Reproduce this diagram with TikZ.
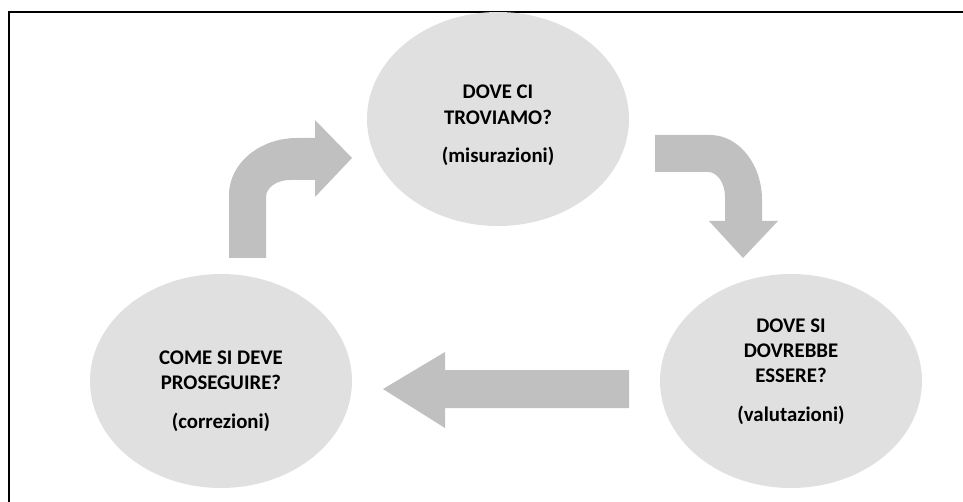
\documentclass[tikz,border=0pt]{standalone}
\usepackage{fontspec}
\setmainfont{Carlito}
\usetikzlibrary{shapes.geometric}
\definecolor{cycleFill}{HTML}{E0E0E0}
\definecolor{cycleArrow}{HTML}{C0C0C0}
\tikzset{
  bubble/.style={ellipse, fill=cycleFill, minimum width=196.5pt, minimum height=160.5pt, inner sep=0pt},
  txt/.style={align=center, inner sep=0pt, font=\fontsize{15.6}{19}\bfseries\selectfont},
  blockarrow/.style={fill=cycleArrow},
  frame/.style={line width=1.5pt},
}

\begin{document}
\begin{tikzpicture}[x=0.75pt, y=-0.75pt]
  \useasboundingbox (0,0) rectangle (963,502);
  \draw[frame] (9,502) -- (9,12) -- (963,12);
  \node[bubble] (where) at (498,119) {};
  \node[bubble] (target) at (791,381) {};
  \node[bubble] (next) at (221,381) {};
  \node[txt, yshift=-5pt] (whereTxt) at (where) {DOVE CI\\TROVIAMO?\\[10pt](misurazioni)};
  \node[txt, yshift=7pt] (targetTxt) at (target) {DOVE SI\\DOVREBBE\\ESSERE?\\[10pt](valutazioni)};
  \node[txt, yshift=-7.5pt] (nextTxt) at (next) {COME SI DEVE\\PROSEGUIRE?\\[10pt](correzioni)};
  \fill[blockarrow] (229,258) -- (229,195) .. controls (229,163.5) and (259.5,138) .. (297,138)
    -- (315,138) -- (315,120) -- (352,158) -- (315,197) -- (315,180) -- (290,180)
    .. controls (276.8,180) and (266,187.6) .. (266,197) -- (266,258) -- cycle;
  \fill[blockarrow] (655,135) -- (710,135) .. controls (738.7,135) and (762,164.1) .. (762,200)
    -- (762,221) -- (778,221) -- (743,258) -- (709,221) -- (725,221) -- (725,197)
    .. controls (725,183.2) and (717.4,172) .. (708,172) -- (655,172) -- cycle;
  \fill[blockarrow] (629,370) -- (445,370) -- (445,352) -- (383,389) -- (445,428)
    -- (445,408) -- (629,408) -- cycle;
\end{tikzpicture}
\end{document}
